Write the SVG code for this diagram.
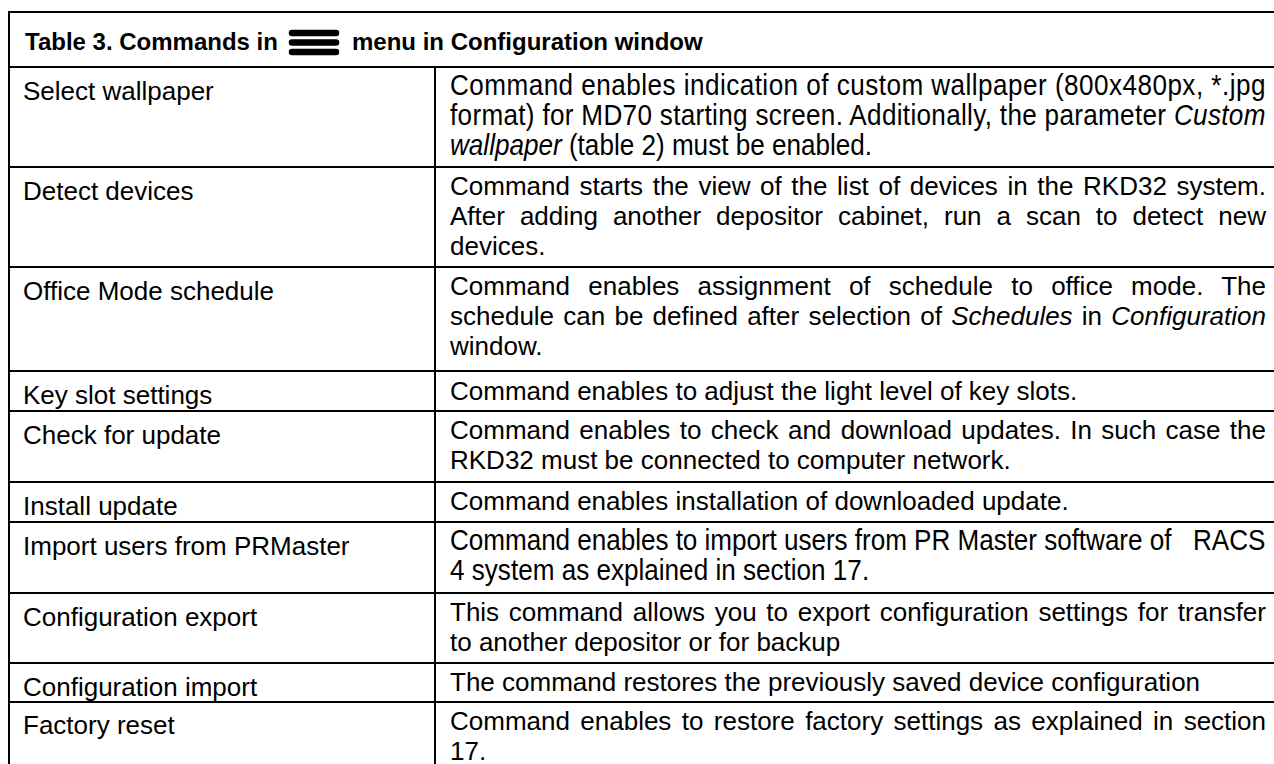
<svg xmlns="http://www.w3.org/2000/svg" width="1274" height="764" viewBox="0 0 1274 764">
<style>
.t{font-family:"Liberation Sans",Arial,sans-serif;font-size:26px;fill:#000}
.n{font-family:"Liberation Sans",Arial,sans-serif;font-size:29px;fill:#000}
.h{font-family:"Liberation Sans",Arial,sans-serif;font-size:24px;font-weight:bold;fill:#000}
.i{font-style:italic}
#grid line{stroke:#000;stroke-width:2}
</style>
<rect width="1274" height="764" fill="#fff"/>
<g id="grid">
<line x1="9" y1="12" x2="1274" y2="12"/>
<line x1="9" y1="11" x2="9" y2="764"/>
<line x1="435" y1="67" x2="435" y2="764"/>
<line x1="9" y1="67" x2="1274" y2="67"/>
<line x1="9" y1="167" x2="1274" y2="167"/>
<line x1="9" y1="267" x2="1274" y2="267"/>
<line x1="9" y1="371" x2="1274" y2="371"/>
<line x1="9" y1="411" x2="1274" y2="411"/>
<line x1="9" y1="482" x2="1274" y2="482"/>
<line x1="9" y1="522" x2="1274" y2="522"/>
<line x1="9" y1="593" x2="1274" y2="593"/>
<line x1="9" y1="663" x2="1274" y2="663"/>
<line x1="9" y1="702" x2="1274" y2="702"/>
</g>
<g id="title">
<text class="h" x="25" y="50">Table 3. Commands in</text>
<g id="menu-icon" stroke="#000" stroke-width="6.5" stroke-linecap="round">
<line x1="292" y1="33" x2="336" y2="33"/>
<line x1="292" y1="42.5" x2="336" y2="42.5"/>
<line x1="292" y1="52" x2="336" y2="52"/>
</g>
<text class="h" x="352" y="50">menu in Configuration window</text>
</g>
<g id="row-select">
<text class="t" x="23" y="100">Select wallpaper</text>
<g transform="translate(450,0) scale(0.9,1)">
<text class="n" x="0" y="95" textLength="906" lengthAdjust="spacing">Command enables indication of custom wallpaper (800x480px, *.jpg</text>
<text class="n" x="0" y="125" textLength="906" lengthAdjust="spacing">format) for MD70 starting screen. Additionally, the parameter <tspan class="i">Custom</tspan></text>
<text class="n" x="0" y="155"><tspan class="i">wallpaper</tspan> (table 2) must be enabled.</text>
</g>
</g>
<g id="row-detect">
<text class="t" x="23" y="200">Detect devices</text>
<text class="t" x="450" y="195" word-spacing="2.4" textLength="816" lengthAdjust="spacing">Command starts the view of the list of devices in the RKD32 system.</text>
<text class="t" x="450" y="225" word-spacing="7.75" textLength="816" lengthAdjust="spacing">After adding another depositor cabinet, run a scan to detect new</text>
<text class="t" x="450" y="255">devices.</text>
</g>
<g id="row-office">
<text class="t" x="23" y="300">Office Mode schedule</text>
<text class="t" x="450" y="295" word-spacing="11" textLength="816" lengthAdjust="spacing">Command enables assignment of schedule to office mode. The</text>
<text class="t" x="450" y="325" word-spacing="2" textLength="816" lengthAdjust="spacing">schedule can be defined after selection of <tspan class="i">Schedules</tspan> in <tspan class="i">Configuration</tspan></text>
<text class="t" x="450" y="355">window.</text>
</g>
<g id="row-key">
<text class="t" x="23" y="404">Key slot settings</text>
<text class="t" x="450" y="400">Command enables to adjust the light level of key slots.</text>
</g>
<g id="row-check">
<text class="t" x="23" y="444">Check for update</text>
<text class="t" x="450" y="439" word-spacing="2.1" textLength="816" lengthAdjust="spacing">Command enables to check and download updates. In such case the</text>
<text class="t" x="450" y="469">RKD32 must be connected to computer network.</text>
</g>
<g id="row-install">
<text class="t" x="23" y="515">Install update</text>
<text class="t" x="450" y="510">Command enables installation of downloaded update.</text>
</g>
<g id="row-import-users">
<text class="t" x="23" y="555">Import users from PRMaster</text>
<g transform="translate(450,0) scale(0.9,1)">
<text class="n" x="0" y="550" textLength="906" lengthAdjust="spacing" xml:space="preserve">Command enables to import users from PR Master software of   RACS</text>
<text class="n" x="0" y="580">4 system as explained in section 17.</text>
</g>
</g>
<g id="row-export">
<text class="t" x="23" y="626">Configuration export</text>
<text class="t" x="450" y="621" word-spacing="2.5" textLength="816" lengthAdjust="spacing">This command allows you to export configuration settings for transfer</text>
<text class="t" x="450" y="651">to another depositor or for backup</text>
</g>
<g id="row-import">
<text class="t" x="23" y="696">Configuration import</text>
<text class="t" x="450" y="691">The command restores the previously saved device configuration</text>
</g>
<g id="row-factory">
<text class="t" x="23" y="734">Factory reset</text>
<text class="t" x="450" y="730" word-spacing="3.2" textLength="816" lengthAdjust="spacing">Command enables to restore factory settings as explained in section</text>
<text class="t" x="450" y="760">17.</text>
</g>
</svg>
